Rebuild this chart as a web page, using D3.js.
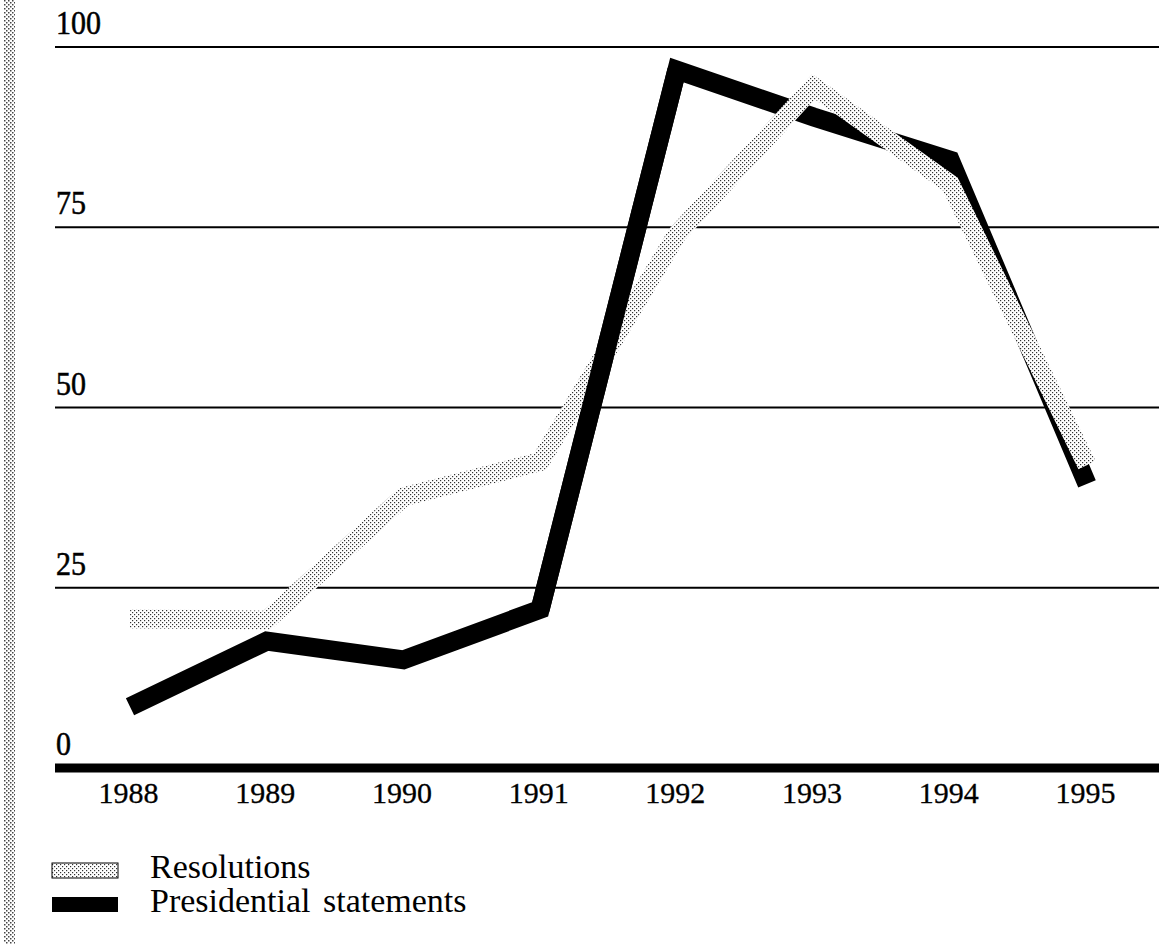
<!DOCTYPE html>
<html>
<head>
<meta charset="utf-8">
<script src="https://cdn.jsdelivr.net/npm/d3@7"></script>
<style>
  html, body { margin: 0; padding: 0; background: #fff; }
  svg { display: block; }
  text { font-family: "Liberation Serif", "Times New Roman", serif; fill: #000; }
</style>
</head>
<body>
<svg id="chart" width="1159" height="944"></svg>
<script>
const years = [1988, 1989, 1990, 1991, 1992, 1993, 1994, 1995];
const resolutions = [20.7, 20.5, 37.6, 42.5, 74, 94.5, 81, 42];
const presidential = [8.5, 17.6, 15, 22, 96.8, 90.3, 84.3, 39.4];
const yTicks = [0, 25, 50, 75, 100];
const legendLabels = ["Resolutions", "Presidential statements"];

const svg = d3.select("#chart");
const W = 1159, H = 944;
svg.append("rect").attr("width", W).attr("height", H).attr("fill", "#fff");

const defs = svg.append("defs");
// halftone dot pattern for the light series
const pat = defs.append("pattern").attr("id", "dots")
  .attr("patternUnits", "userSpaceOnUse").attr("width", 4).attr("height", 4);
pat.append("rect").attr("width", 4).attr("height", 4).attr("fill", "#fff");
pat.append("rect").attr("x", 0).attr("y", 0).attr("width", 1.2).attr("height", 1.2).attr("fill", "#333");
pat.append("rect").attr("x", 2).attr("y", 2).attr("width", 1.2).attr("height", 1.2).attr("fill", "#333");
// pattern for the border strip
const pat2 = defs.append("pattern").attr("id", "strip")
  .attr("patternUnits", "userSpaceOnUse").attr("width", 4).attr("height", 4);
pat2.append("rect").attr("width", 4).attr("height", 4).attr("fill", "#fff");
pat2.append("rect").attr("x", 0).attr("y", 0).attr("width", 1.5).attr("height", 1.5).attr("fill", "#444");
pat2.append("rect").attr("x", 2).attr("y", 2).attr("width", 1.5).attr("height", 1.5).attr("fill", "#444");

// left border strip
svg.append("rect").attr("x", 4).attr("y", 0).attr("width", 11).attr("height", H).attr("fill", "url(#strip)");

const x = d3.scalePoint().domain(years).range([130, 1087]);
const y = d3.scaleLinear().domain([0, 100]).range([768, 47]);
const left = 55, right = W;

// gridlines
svg.append("g").selectAll("line").data(yTicks.filter(t => t > 0)).join("line")
  .attr("x1", left).attr("x2", right)
  .attr("y1", d => y(d)).attr("y2", d => y(d))
  .attr("stroke", "#000").attr("stroke-width", 2);

// y labels
svg.append("g").selectAll("text").data(yTicks).join("text")
  .attr("transform", d => `translate(56,${y(d) - 13}) scale(1,1.12)`)
  .attr("font-size", 30)
  .attr("stroke", "#000").attr("stroke-width", 0.5)
  .text(d => d);

// series
const line = d3.line().x(d => x(d.year)).y(d => y(d.v));
const presData = years.map((yr, i) => ({ year: yr, v: presidential[i] }));
const resData = years.map((yr, i) => ({ year: yr, v: resolutions[i] }));

svg.append("path").datum(presData).attr("d", line)
  .attr("fill", "none").attr("stroke", "#000").attr("stroke-width", 19)
  .attr("stroke-linejoin", "miter").attr("stroke-miterlimit", 10);
svg.append("path").datum(resData).attr("d", line)
  .attr("fill", "none").attr("stroke", "url(#dots)").attr("stroke-width", 19)
  .attr("stroke-linejoin", "miter").attr("stroke-miterlimit", 10);
// the 1991-1992 black segment passes over the light line
svg.append("path").datum(presData.slice(3, 5)).attr("d", line)
  .attr("fill", "none").attr("stroke", "#000").attr("stroke-width", 19);

// zero axis (thick)
svg.append("line").attr("x1", left).attr("x2", right)
  .attr("y1", y(0)).attr("y2", y(0))
  .attr("stroke", "#000").attr("stroke-width", 9);

// x axis labels
const xAxis = svg.append("g").attr("transform", `translate(0,${y(0)})`)
  .call(d3.axisBottom(x).tickSize(0));
xAxis.select(".domain").remove();
xAxis.selectAll("text")
  .attr("y", 35).attr("dy", 0).attr("dx", -2)
  .attr("font-size", 30)
  .attr("font-family", "Liberation Serif, Times New Roman, serif")
  .attr("stroke", "#000").attr("stroke-width", 0.3)
  .attr("fill", "#000");

// legend
const leg = svg.append("g");
const legY = [863, 897];
const legFill = ["url(#dots)", "#000"];
legendLabels.forEach((lab, i) => {
  leg.append("rect").attr("x", 52).attr("y", legY[i]).attr("width", 66).attr("height", 15)
    .attr("fill", legFill[i]).attr("stroke", "#000").attr("stroke-width", i === 0 ? 1 : 0);
  leg.append("text").attr("x", 150).attr("y", legY[i] + 15)
    .attr("font-size", 34).attr("word-spacing", 4).text(lab);
});
</script>
</body>
</html>
